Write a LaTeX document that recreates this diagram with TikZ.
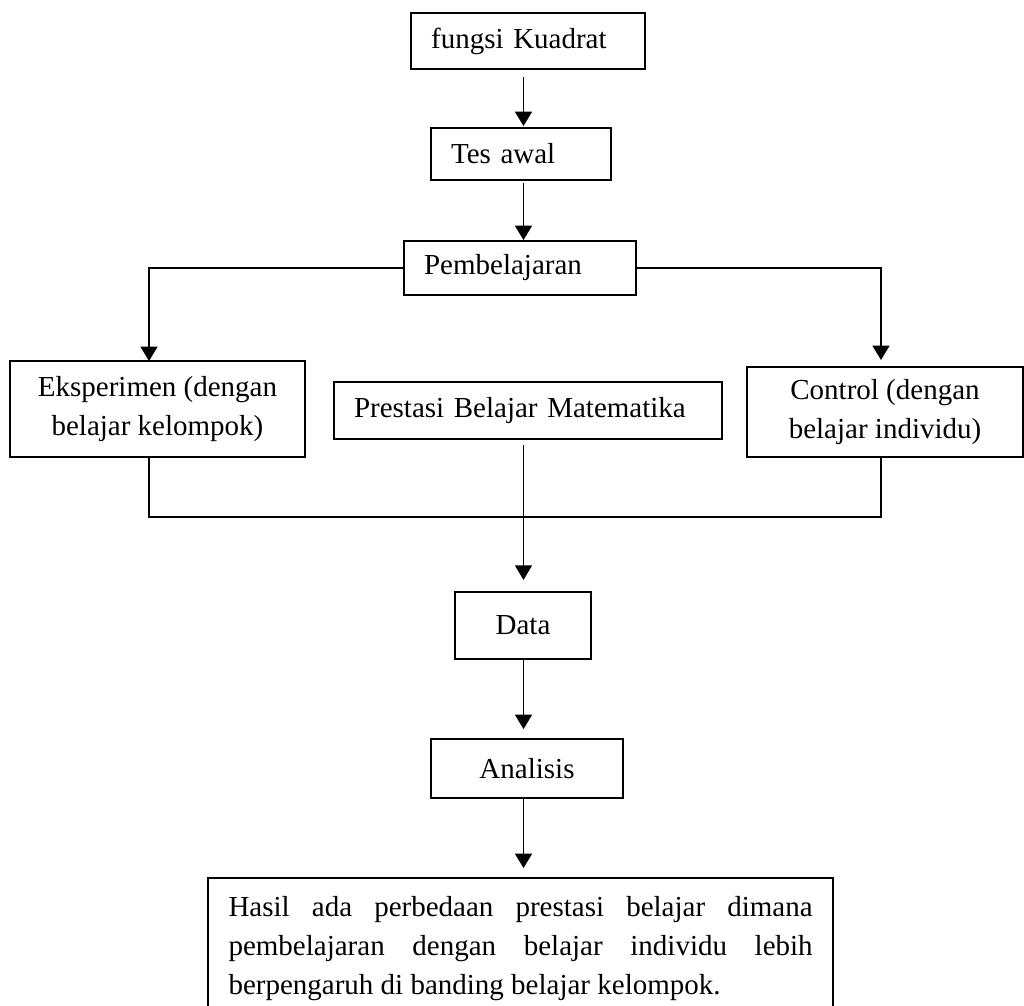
\documentclass[tikz,border=0pt]{standalone}
\usepackage{fontspec}
\setmainfont{Liberation Serif}
\usetikzlibrary{calc}
\usetikzlibrary{shapes,arrows.meta}

\begin{document}
\begin{tikzpicture}[x=0.4138pt,y=-0.4138pt]


 \tikzset{
    box/.style={
      rectangle,
      draw,
      line width=0.8pt,
      inner sep=1mm,
      outer sep=0mm,
      align=center,
      font=\fontsize{12}{16}\selectfont
    },
    boxl/.style={
      box,
      align=left,
      inner xsep=8.3pt
    },
    arr/.style={
      -{Triangle[length=6pt,width=7pt]},
      line width=0.8pt
    }
  }

\useasboundingbox (0,0) rectangle (1024,1005);

\coordinate (cl) at (149,0);
\coordinate (cm) at (523.5,0);
\coordinate (cr) at (881,0);

\node [boxl, text width=80.2pt, minimum height=23.2pt] (kuadrat) at (528,41) {fungsi Kuadrat};
\node [boxl, text width=57.9pt, minimum height=21.5pt] (tes) at (521,154) {Tes awal};
\node [boxl, text width=79.4pt, minimum height=22.3pt] (pemb) at (520,268) {Pembelajaran};

\node [box, minimum width=122pt, minimum height=39.7pt] (eksp) at (157.5,409) {Eksperimen (dengan\\belajar kelompok)};
\node [boxl, text width=144pt, minimum height=23.6pt] (prest) at (528,410.5) {Prestasi Belajar Matematika};
\node [box, minimum width=114.2pt, minimum height=37.2pt] (ctrl) at (885,412) {Control (dengan\\belajar individu)};

\node [box, minimum width=56.3pt, minimum height=27.7pt] (data) at (523,625.5) {Data};
\node [box, minimum width=79.4pt, minimum height=24.4pt] (anal) at (527,768.5) {Analisis};

\node [box, anchor=north west, text width=241.7pt, inner xsep=8.5pt, inner ysep=7.5pt,
       align=justify, font=\fontsize{12}{16.1}\selectfont] (hasil) at (208,878)
      {\hyphenpenalty=10000\relax
       Hasil ada perbedaan prestasi belajar dimana\linebreak
       pembelajaran dengan belajar individu lebih\linebreak
       berpengaruh di banding belajar kelompok.};

\draw [arr, shorten <=3.3pt, shorten >=0.8pt] (kuadrat.south -| cm) -- (tes.north -| cm);
\draw [arr, shorten <=1.2pt, shorten >=0.4pt] (tes.south -| cm) -- (pemb.north -| cm);
\draw [arr] (pemb.west) -| (eksp.north -| cl);
\draw [arr, shorten >=2.9pt] (pemb.east) -| (ctrl.north -| cr);
\draw [line width=0.8pt] (eksp.south -| cl) -- ++(0,60) -| (ctrl.south -| cr);
\draw [arr, line width=0.5pt, shorten <=2.5pt, shorten >=5pt] (prest.south -| cm) -- (data.north -| cm);
\draw [arr, shorten >=4.1pt] (data.south -| cm) -- (anal.north -| cm);
\draw [arr, shorten >=4.1pt] (anal.south -| cm) -- (hasil.north -| cm);
\end{tikzpicture}
\end{document}
